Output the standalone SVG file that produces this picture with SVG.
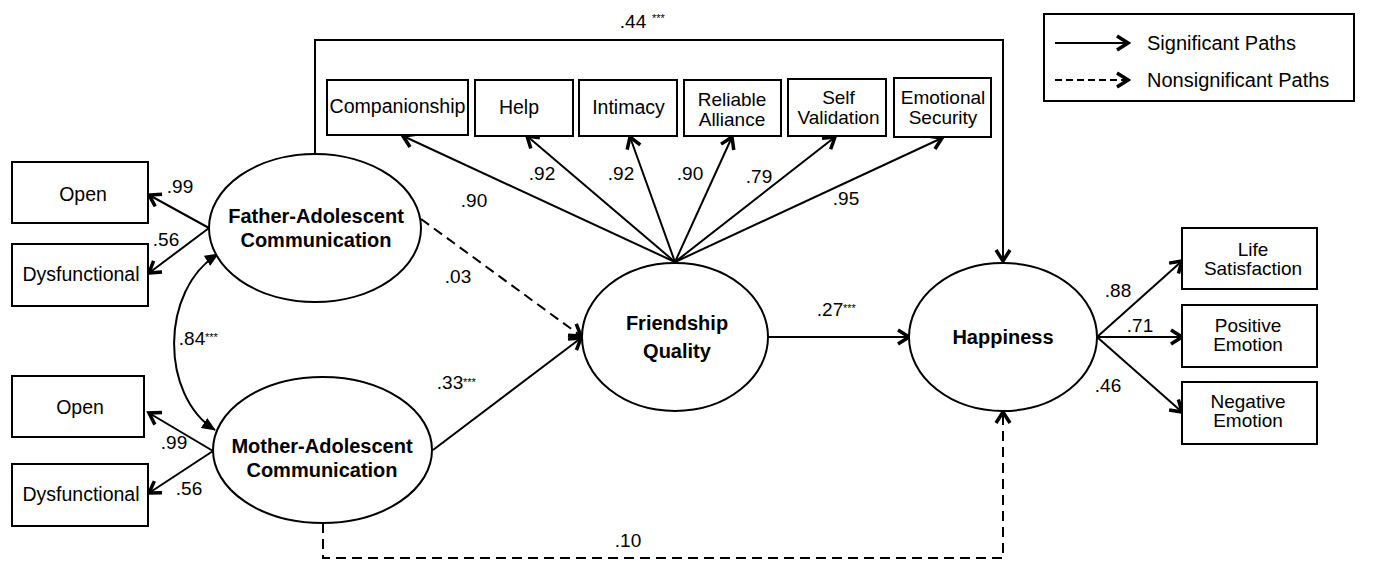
<svg xmlns="http://www.w3.org/2000/svg" width="1373" height="562" viewBox="0 0 1373 562">
<style>
  .box { fill: #fff; stroke: #000; stroke-width: 2; }
  .lat { fill: #fff; stroke: #000; stroke-width: 2; }
  .t { font-family: "Liberation Sans", Arial, sans-serif; font-size: 19.5px; fill: #000; text-anchor: middle; }
  .t2 { font-family: "Liberation Sans", Arial, sans-serif; font-size: 19px; fill: #000; text-anchor: middle; }
  .b { font-family: "Liberation Sans", Arial, sans-serif; font-size: 20px; font-weight: bold; fill: #000; text-anchor: middle; }
  .c { font-family: "Liberation Sans", Arial, sans-serif; font-size: 19px; fill: #000; text-anchor: middle; }
  .s { font-family: "Liberation Sans", Arial, sans-serif; font-size: 11px; fill: #000; }
  .lg { font-family: "Liberation Sans", Arial, sans-serif; font-size: 20px; fill: #000; }
  .ln { fill: none; stroke: #000; stroke-width: 2; }
  .arr { marker-end: url(#chev); }
  .dash { stroke-dasharray: 10 6; }
</style>
<defs>
  <marker id="chev" markerUnits="userSpaceOnUse" viewBox="0 0 18 18" markerWidth="18" markerHeight="18" refX="15" refY="9" orient="auto">
    <path d="M4,2 L15,9 L4,16" fill="none" stroke="#000" stroke-width="3.5" stroke-linejoin="miter"/>
  </marker>
  <marker id="tri" markerUnits="userSpaceOnUse" viewBox="0 0 14 12" markerWidth="14" markerHeight="12" refX="13" refY="6" orient="auto-start-reverse">
    <path d="M0,0 L14,6 L0,12 Z" fill="#000"/>
  </marker>
</defs>

<g id="connectors">
  <line class="ln arr" x1="209" y1="228" x2="149" y2="195"/>
  <line class="ln arr" x1="209" y1="228" x2="149" y2="273"/>
  <line class="ln arr" x1="213" y1="451" x2="149" y2="413"/>
  <line class="ln arr" x1="213" y1="451" x2="149" y2="493"/>
  <path class="ln" d="M218,254 C160,290 160,395 215,430" marker-start="url(#tri)" marker-end="url(#tri)"/>
  <line class="ln arr" x1="675" y1="262" x2="403" y2="136"/>
  <line class="ln arr" x1="675" y1="262" x2="527" y2="136"/>
  <line class="ln arr" x1="675" y1="262" x2="630" y2="137"/>
  <line class="ln arr" x1="675" y1="262" x2="732" y2="137"/>
  <line class="ln arr" x1="675" y1="262" x2="835" y2="137"/>
  <line class="ln arr" x1="675" y1="262" x2="942" y2="138"/>
  <line class="ln arr dash" x1="421" y1="219" x2="581" y2="336"/>
  <line class="ln arr" x1="433" y1="450" x2="581" y2="338"/>
  <line class="ln arr" x1="768" y1="337" x2="909" y2="337"/>
  <polyline class="ln arr" points="315,154 315,40 1003,40 1003,261"/>
  <polyline class="ln arr dash" points="323,523 323,558 1003,558 1003,412"/>
  <line class="ln arr" x1="1097" y1="337" x2="1182" y2="261"/>
  <line class="ln arr" x1="1097" y1="337" x2="1182" y2="337"/>
  <line class="ln arr" x1="1097" y1="337" x2="1182" y2="412"/>

  <text class="c" x="180" y="193">.99</text>
  <text class="c" x="166" y="246">.56</text>
  <text class="c" x="174" y="449">.99</text>
  <text class="c" x="189" y="495">.56</text>
  <text class="c" x="192" y="345">.84</text><text class="s" x="205" y="341">***</text>
  <text class="c" x="633" y="28">.44</text><text class="s" x="652" y="22">***</text>
  <text class="c" x="474" y="207">.90</text>
  <text class="c" x="542" y="180">.92</text>
  <text class="c" x="621" y="180">.92</text>
  <text class="c" x="690" y="180">.90</text>
  <text class="c" x="759" y="183">.79</text>
  <text class="c" x="846" y="205">.95</text>
  <text class="c" x="458" y="283">.03</text>
  <text class="c" x="450" y="389">.33</text><text class="s" x="463" y="386">***</text>
  <text class="c" x="830" y="316">.27</text><text class="s" x="843" y="312">***</text>
  <text class="c" x="628" y="547">.10</text>
  <text class="c" x="1118" y="297">.88</text>
  <text class="c" x="1140" y="332">.71</text>
  <text class="c" x="1108" y="392">.46</text>
</g>

<g id="open-father">
  <rect class="box" x="12" y="162" width="136" height="61"/>
  <text class="t" x="83" y="201">Open</text>
</g>
<g id="dysfunctional-father">
  <rect class="box" x="12" y="244" width="136" height="62"/>
  <text class="t" x="81" y="281">Dysfunctional</text>
</g>
<g id="open-mother">
  <rect class="box" x="12" y="376" width="132" height="61"/>
  <text class="t" x="80" y="414">Open</text>
</g>
<g id="dysfunctional-mother">
  <rect class="box" x="12" y="464" width="136" height="62"/>
  <text class="t" x="81" y="501">Dysfunctional</text>
</g>

<g id="father">
  <ellipse class="lat" cx="315" cy="228" rx="106" ry="74"/>
  <text class="b" x="316" y="223">Father-Adolescent</text>
  <text class="b" x="316" y="247">Communication</text>
</g>
<g id="mother">
  <ellipse class="lat" cx="322.5" cy="450" rx="109.5" ry="73"/>
  <text class="b" x="322" y="453">Mother-Adolescent</text>
  <text class="b" x="322" y="477">Communication</text>
</g>
<g id="friendship">
  <ellipse class="lat" cx="675" cy="337" rx="93" ry="74"/>
  <text class="b" x="677" y="330">Friendship</text>
  <text class="b" x="677" y="358">Quality</text>
</g>
<g id="happiness">
  <ellipse class="lat" cx="1003" cy="337" rx="94" ry="74"/>
  <text class="b" x="1003" y="344">Happiness</text>
</g>

<g id="companionship">
  <rect class="box" x="327" y="80" width="141" height="55"/>
  <text class="t" x="397.5" y="113" textLength="136" lengthAdjust="spacingAndGlyphs">Companionship</text>
</g>
<g id="help">
  <rect class="box" x="475" y="80" width="98" height="56"/>
  <text class="t" x="519" y="114">Help</text>
</g>
<g id="intimacy">
  <rect class="box" x="579" y="80" width="98" height="56"/>
  <text class="t" x="628.5" y="114">Intimacy</text>
</g>
<g id="reliable-alliance">
  <rect class="box" x="684" y="80" width="97" height="56"/>
  <text class="t2" x="732" y="106">Reliable</text>
  <text class="t2" x="732" y="126">Alliance</text>
</g>
<g id="self-validation">
  <rect class="box" x="788" y="79" width="98" height="57"/>
  <text class="t2" x="838.5" y="104">Self</text>
  <text class="t2" x="838.5" y="124">Validation</text>
</g>
<g id="emotional-security">
  <rect class="box" x="894" y="78" width="97" height="59"/>
  <text class="t2" x="943" y="104">Emotional</text>
  <text class="t2" x="943" y="124">Security</text>
</g>

<g id="life-satisfaction">
  <rect class="box" x="1182" y="228" width="135" height="61"/>
  <text class="t2" x="1253" y="256">Life</text>
  <text class="t2" x="1253" y="275">Satisfaction</text>
</g>
<g id="positive-emotion">
  <rect class="box" x="1182" y="305" width="135" height="62"/>
  <text class="t2" x="1248" y="332">Positive</text>
  <text class="t2" x="1248" y="351">Emotion</text>
</g>
<g id="negative-emotion">
  <rect class="box" x="1182" y="382" width="135" height="62"/>
  <text class="t2" x="1248" y="408">Negative</text>
  <text class="t2" x="1248" y="427">Emotion</text>
</g>

<g id="legend">
  <rect class="box" x="1044" y="14" width="310" height="87"/>
  <line class="ln arr" x1="1055" y1="43" x2="1128" y2="43"/>
  <line class="ln arr" x1="1055" y1="80" x2="1128" y2="80" stroke-dasharray="7 4"/>
  <text class="lg" x="1147" y="50">Significant Paths</text>
  <text class="lg" x="1147" y="87">Nonsignificant Paths</text>
</g>
</svg>
